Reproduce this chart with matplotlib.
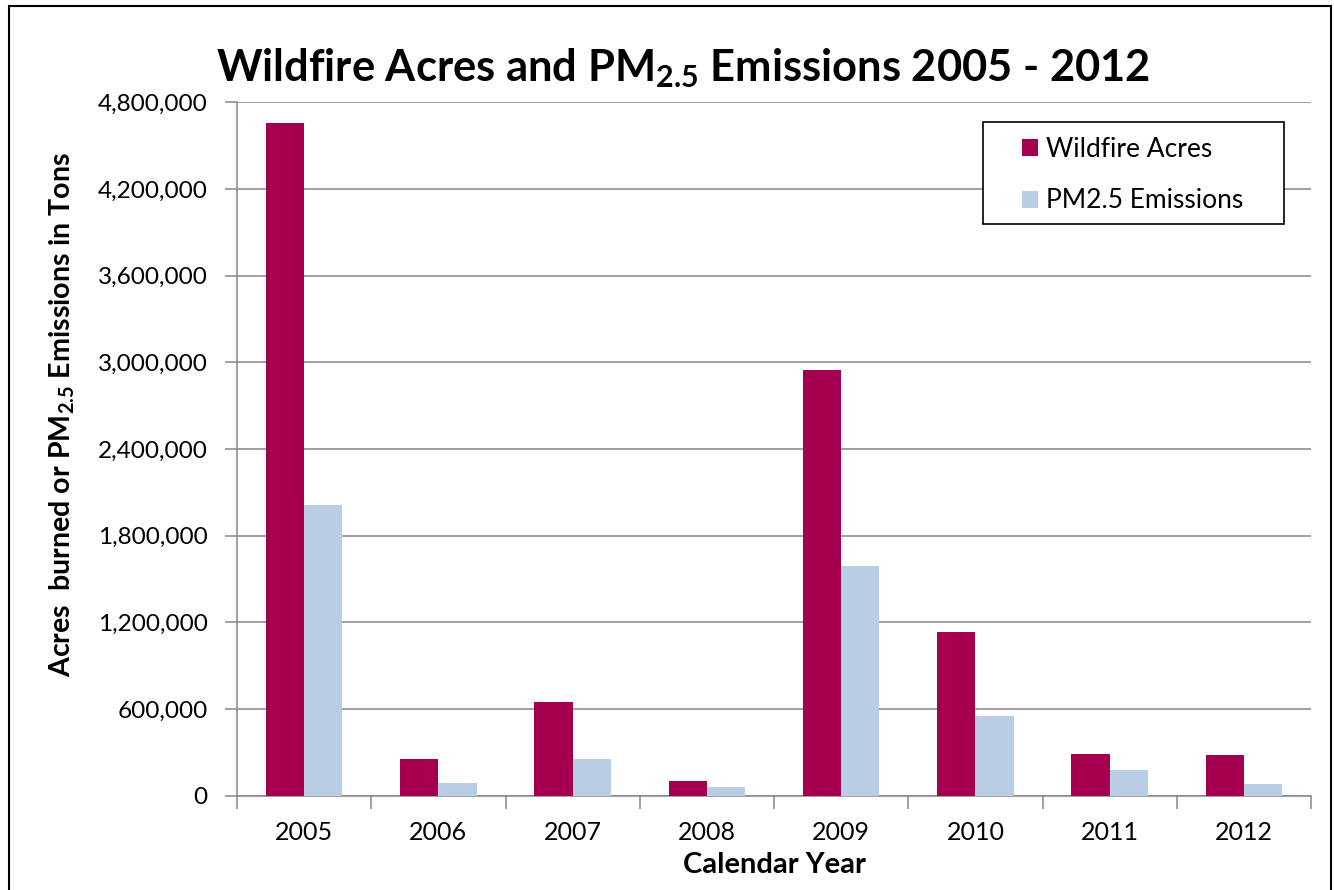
import numpy as np
import matplotlib
matplotlib.use("Agg")
import matplotlib.pyplot as plt
from matplotlib.patches import Rectangle
from matplotlib.ticker import FuncFormatter, FixedLocator

plt.rcParams['font.family'] = ['Lato', 'DejaVu Sans']
# only the bold titles use mathtext (for the 2.5 subscript)
plt.rcParams['mathtext.fontset'] = 'custom'
plt.rcParams['mathtext.rm'] = 'Lato:bold'
plt.rcParams['mathtext.it'] = 'Lato:bold'
plt.rcParams['mathtext.bf'] = 'Lato:bold'
plt.rcParams['mathtext.default'] = 'rm'

years = ['2005', '2006', '2007', '2008', '2009', '2010', '2011', '2012']
wildfire_acres = [4660000, 255000, 647000, 100000, 2946000, 1130000, 289000, 282000]
pm25_emissions = [2012000, 88000, 256000, 58000, 1590000, 549000, 177000, 82000]

W, H = 1334, 890
fig = plt.figure(figsize=(W / 100, H / 100), dpi=100)
ax = fig.add_axes([237 / W, 1 - 795.7 / H, (1311 - 237) / W, (795.7 - 102.3) / H])

x = np.arange(len(years))
bw = 0.2857
ax.bar(x - bw / 2, wildfire_acres, bw, color='#A50050', label='Wildfire Acres', zorder=3)
ax.bar(x + bw / 2, pm25_emissions, bw, color='#B9CDE5', label='PM2.5 Emissions', zorder=3)

ax.set_xlim(-0.5, len(years) - 0.5)
ax.set_ylim(0, 4800000)
ax.set_yticks(np.arange(0, 4800001, 600000))
ax.yaxis.set_major_formatter(FuncFormatter(lambda v, p: f'{int(v):,}'))
ax.grid(axis='y', color='#868686', lw=1.1, zorder=0)

ax.set_xticks(x)
ax.set_xticklabels(years)
ax.xaxis.set_minor_locator(FixedLocator(np.arange(-0.5, len(years), 1)))
ax.tick_params(axis='x', which='major', length=0, pad=18, labelsize=18)
ax.tick_params(axis='x', which='minor', length=9, width=1.1, color='#868686', direction='out')
ax.tick_params(axis='y', length=9, width=1.1, color='#868686', pad=12, labelsize=17.6)

for s in ['top', 'right']:
    ax.spines[s].set_visible(False)
for s in ['left', 'bottom']:
    ax.spines[s].set_color('#868686')
    ax.spines[s].set_linewidth(1.1)

fig.text(683 / W, 1 - 68 / H, r'Wildfire Acres and PM$_{2.5}$ Emissions 2005 - 2012',
         ha='center', va='center', fontsize=31.3, fontweight='bold')
fig.text(62 / W, 1 - 415 / H, r'Acres  burned or PM$_{2.5}$ Emissions in Tons',
         ha='center', va='center', rotation=90, fontsize=20.6, fontweight='bold')
fig.text(774 / W, 1 - 865 / H, 'Calendar Year', ha='center', va='center',
         fontsize=21, fontweight='bold')

# legend entries without frame, box drawn separately like the Excel one
leg = ax.legend(loc='upper left', bbox_to_anchor=(1022 / W, 1 - 137 / H),
                bbox_transform=fig.transFigure, frameon=False, fontsize=19,
                handlelength=0.6, handleheight=0.62, handletextpad=0.3,
                labelspacing=1.0, borderpad=0, borderaxespad=0)
leg.set_zorder(5)
ax.add_patch(Rectangle((983 / W, 1 - 224 / H), (1284 - 983) / W, (224 - 122) / H,
                       transform=fig.transFigure, facecolor='white', edgecolor='black',
                       lw=1.2, zorder=4))

fig.patches.append(Rectangle((9 / W, -0.05), (1331 - 9) / W, 1.05 - 6 / H, transform=fig.transFigure,
                             fill=False, edgecolor='black', lw=1.5))

fig.savefig('out.png', dpi=100)
